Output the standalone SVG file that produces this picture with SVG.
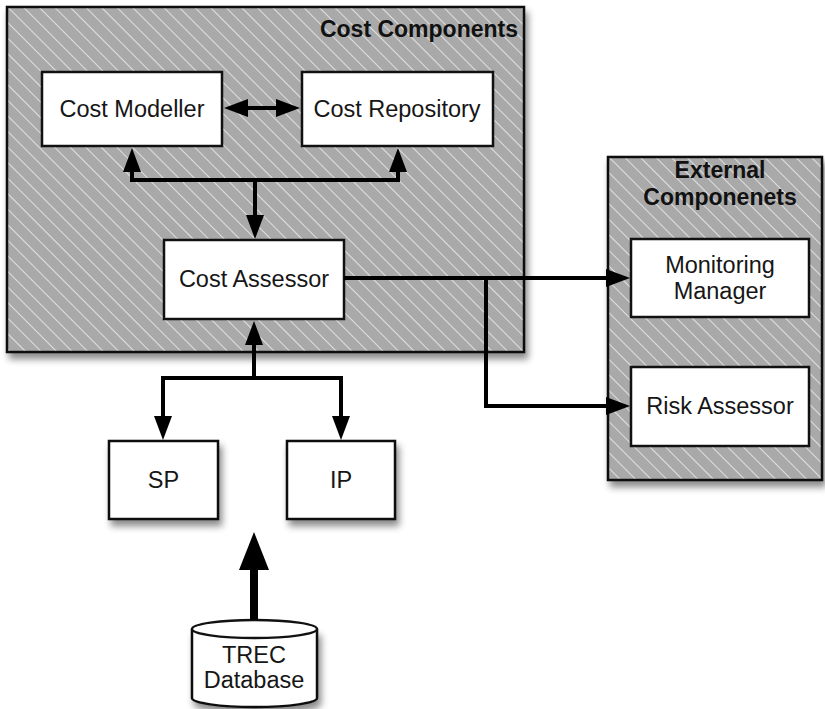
<svg xmlns="http://www.w3.org/2000/svg" width="825" height="709" viewBox="0 0 825 709">
  <style>
    .txt { font-family: "Liberation Sans", Arial, sans-serif; font-size: 23.5px; fill: #161616; text-anchor: middle; }
    .title { font-family: "Liberation Sans", Arial, sans-serif; font-weight: bold; font-size: 23px; fill: #111; }
    .box { fill: #fff; stroke: #111; stroke-width: 2.5; }
    .group { fill: url(#hatch); stroke: #111; stroke-width: 2.5; }
    .wire { fill: none; stroke: #000; stroke-width: 4; }
  </style>
  <defs>
    <pattern id="hatch" patternUnits="userSpaceOnUse" width="11" height="11" patternTransform="rotate(-45)">
      <rect width="11" height="11" fill="#a9a9a9"/>
      <line x1="0" y1="0" x2="0" y2="11" stroke="#e0e0e0" stroke-width="2"/>
    </pattern>
    <filter id="shadow" x="-10%" y="-10%" width="125%" height="130%">
      <feDropShadow dx="3" dy="6" stdDeviation="3.5" flood-color="#000" flood-opacity="0.45"/>
    </filter>
    <marker id="ah" markerUnits="userSpaceOnUse" viewBox="-13 -9 24 18" refX="0" refY="0" markerWidth="24" markerHeight="18" orient="auto-start-reverse">
      <path d="M-13,-9 L11,0 L-13,9 z" fill="#000"/>
    </marker>
  </defs>

  <!-- container: cost components -->
  <g id="cost-components">
    <rect class="group" x="7" y="7" width="517" height="345" filter="url(#shadow)"/>
    <text class="title" x="518" y="37" text-anchor="end">Cost Components</text>
  </g>

  <!-- container: external components -->
  <g id="external-components">
    <rect class="group" x="608" y="157" width="214" height="323" filter="url(#shadow)"/>
    <text class="title" x="720" y="178" text-anchor="middle" font-size="22">External</text>
    <text class="title" x="720" y="205" text-anchor="middle" font-size="22">Componenets</text>
  </g>

  <g id="cost-modeller">
    <rect class="box" x="42" y="72" width="180" height="74"/>
    <text class="txt" x="132" y="117">Cost Modeller</text>
  </g>

  <g id="cost-repository">
    <rect class="box" x="302" y="72" width="191" height="74"/>
    <text class="txt" x="397" y="117">Cost Repository</text>
  </g>

  <g id="cost-assessor">
    <rect class="box" x="164" y="240" width="180" height="79"/>
    <text class="txt" x="254" y="287">Cost Assessor</text>
  </g>

  <g id="monitoring-manager">
    <rect class="box" x="631" y="239" width="178" height="78"/>
    <text class="txt" x="720" y="273">Monitoring</text>
    <text class="txt" x="720" y="299">Manager</text>
  </g>

  <g id="risk-assessor">
    <rect class="box" x="631" y="367" width="178" height="79"/>
    <text class="txt" x="720" y="414">Risk Assessor</text>
  </g>

  <g id="sp">
    <rect class="box" x="109" y="441" width="109" height="78" filter="url(#shadow)"/>
    <text class="txt" x="163.5" y="488">SP</text>
  </g>

  <g id="ip">
    <rect class="box" x="287" y="441" width="108" height="78" filter="url(#shadow)"/>
    <text class="txt" x="341" y="488">IP</text>
  </g>

  <g id="trec-database">
    <path d="M192,629 L192,698 A62.5,9 0 0 0 317,698 L317,629" fill="#fff" stroke="#111" stroke-width="2.5" filter="url(#shadow)"/>
    <ellipse cx="254.5" cy="629" rx="62.5" ry="9" fill="#fff" stroke="#111" stroke-width="2.5"/>
    <text class="txt" x="254" y="663">TREC</text>
    <text class="txt" x="254" y="688">Database</text>
  </g>

  <!-- connectors -->
  <g id="connectors">
    <!-- modeller <-> repository -->
    <line class="wire" x1="235" y1="108" x2="289" y2="108" marker-start="url(#ah)" marker-end="url(#ah)"/>
    <!-- assessor up to modeller and repository -->
    <polyline class="wire" points="132,159 132,180 398,180 398,159" marker-start="url(#ah)" marker-end="url(#ah)"/>
    <line class="wire" x1="255" y1="180" x2="255" y2="228" marker-end="url(#ah)"/>
    <!-- SP / IP up to assessor -->
    <line class="wire" x1="254" y1="378" x2="254" y2="332" marker-end="url(#ah)"/>
    <polyline class="wire" points="163,429 163,378 341,378 341,429" marker-start="url(#ah)" marker-end="url(#ah)"/>
    <!-- assessor to external components -->
    <line class="wire" x1="344" y1="278" x2="619" y2="278" marker-end="url(#ah)"/>
    <polyline class="wire" points="486,278 486,406 619,406" marker-end="url(#ah)"/>
    <!-- database feed -->
    <line x1="254" y1="620" x2="254" y2="562" stroke="#000" stroke-width="8"/>
    <path d="M254,532 L269,570 L239,570 z" fill="#000"/>
  </g>
</svg>
